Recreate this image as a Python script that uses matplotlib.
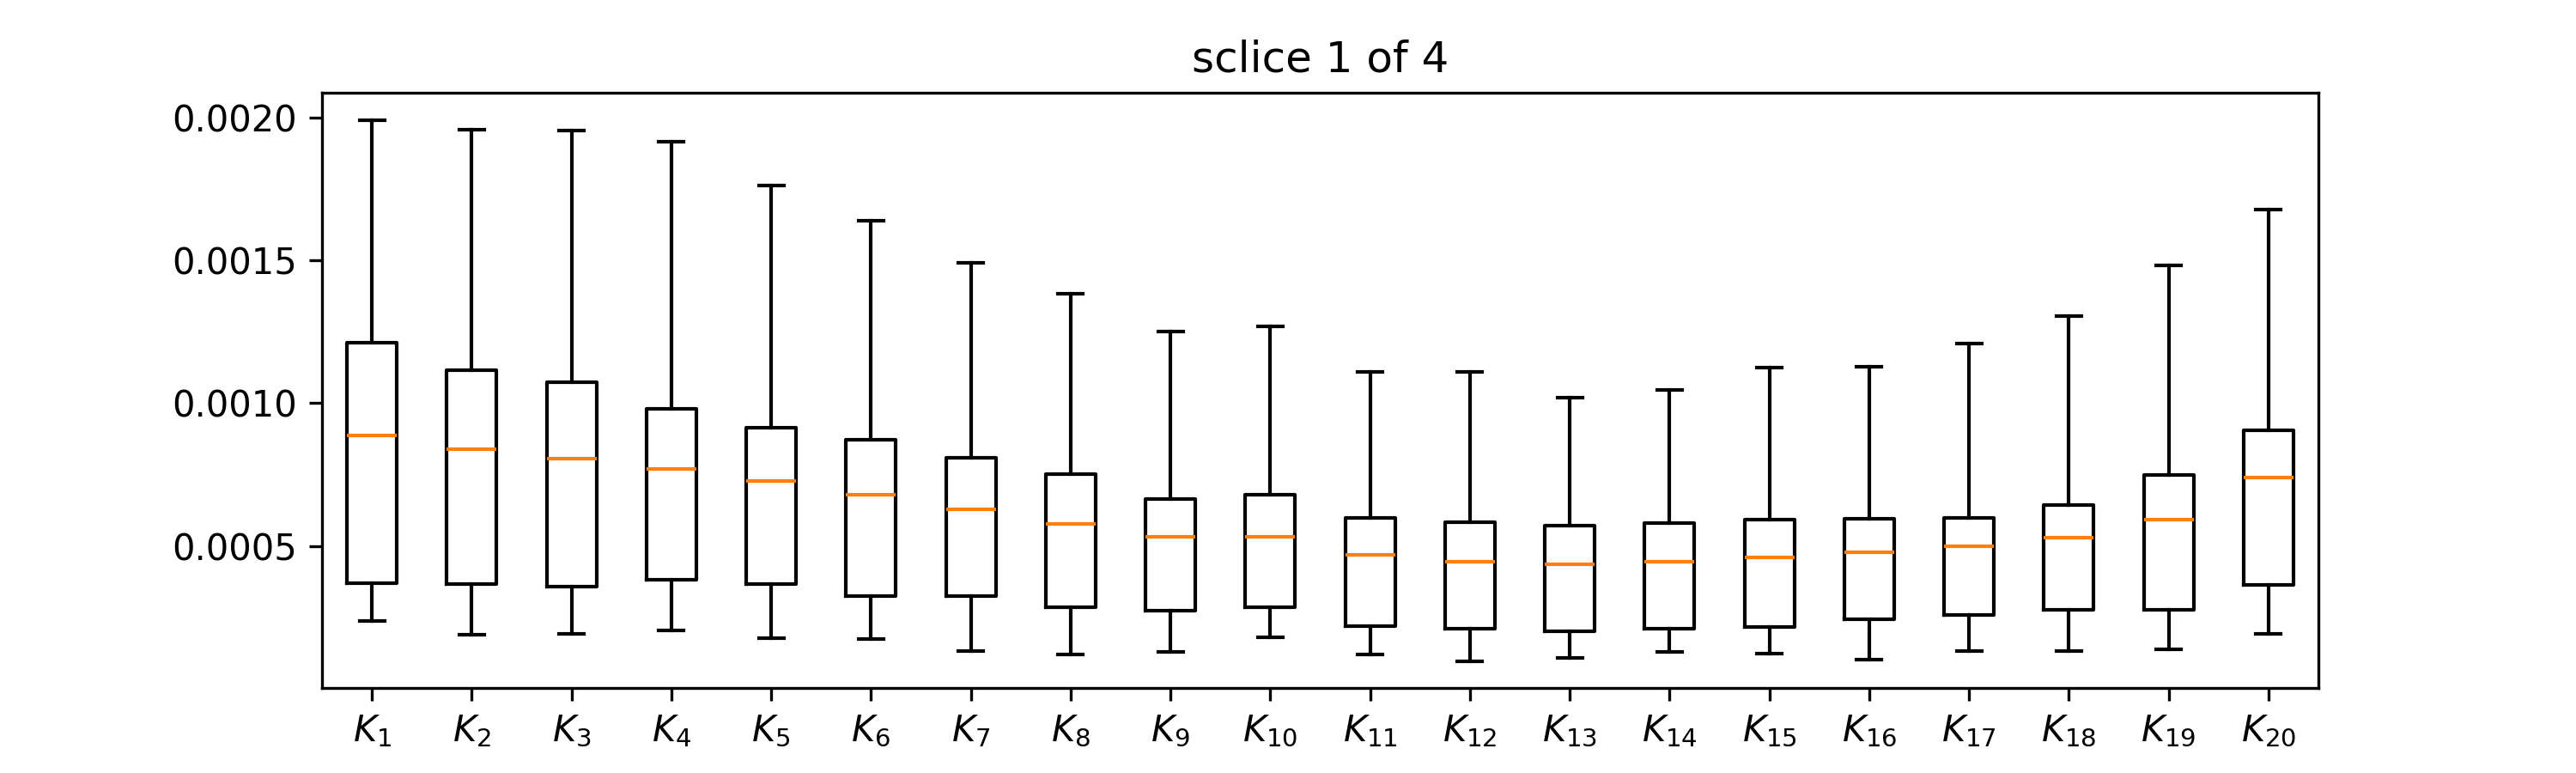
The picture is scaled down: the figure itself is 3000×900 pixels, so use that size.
import numpy as np
import matplotlib
matplotlib.use('Agg')
import matplotlib.pyplot as plt

# per-box summary values
labels = [r'$K_{%d}$' % i for i in range(1, 21)]
whislo = [0.000236, 0.000189, 0.000193, 0.000204, 0.000176, 0.000173, 0.000133, 0.000119, 0.000130, 0.000180,
          0.000119, 0.000097, 0.000109, 0.000130, 0.000124, 0.000103, 0.000133, 0.000133, 0.000137, 0.000193]
q1 = [0.000369, 0.000366, 0.000357, 0.000381, 0.000367, 0.000324, 0.000324, 0.000284, 0.000274, 0.000284,
      0.000220, 0.000211, 0.000200, 0.000209, 0.000216, 0.000244, 0.000257, 0.000276, 0.000276, 0.000364]
med = [0.000886, 0.000839, 0.000806, 0.000771, 0.000729, 0.000680, 0.000629, 0.000576, 0.000533, 0.000533,
       0.000469, 0.000446, 0.000437, 0.000446, 0.000461, 0.000477, 0.000499, 0.000530, 0.000591, 0.000739]
q3 = [0.001211, 0.001117, 0.001074, 0.000981, 0.000914, 0.000871, 0.000809, 0.000751, 0.000664, 0.000680,
      0.000597, 0.000584, 0.000570, 0.000579, 0.000591, 0.000596, 0.000599, 0.000644, 0.000749, 0.000906]
whishi = [0.001993, 0.001959, 0.001956, 0.001916, 0.001764, 0.001640, 0.001493, 0.001383, 0.001250, 0.001270,
          0.001110, 0.001110, 0.001020, 0.001047, 0.001124, 0.001127, 0.001210, 0.001306, 0.001483, 0.001680]

stats = []
for i in range(len(labels)):
    stats.append({'label': labels[i], 'whislo': whislo[i], 'q1': q1[i], 'med': med[i],
                  'q3': q3[i], 'whishi': whishi[i], 'fliers': []})

fig = plt.figure(figsize=(10, 3))
ax = fig.add_subplot(111)
ax.bxp(stats, showfliers=False)
ax.set_yticks([0.0005, 0.0010, 0.0015, 0.0020])
ax.set_title('sclice 1 of 4')
plt.savefig('out.png', dpi=300)
